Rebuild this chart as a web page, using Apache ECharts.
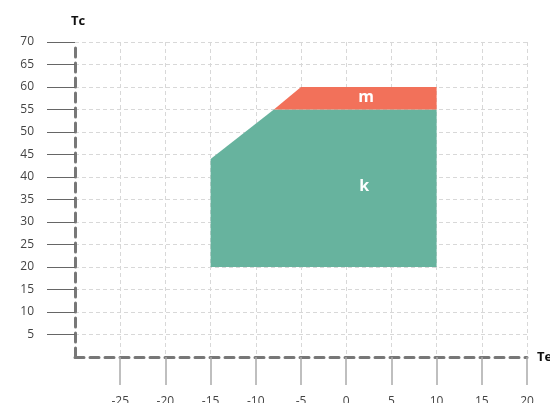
<!DOCTYPE html>
<html><head><meta charset="utf-8">
<script src="https://cdn.jsdelivr.net/npm/echarts@6/dist/echarts.min.js"></script>
<style>html,body{margin:0;padding:0;background:#fff}#c{width:550px;height:403px}</style>
</head><body><div id="c"></div>
<script>
const xTicks = [-25, -20, -15, -10, -5, 0, 5, 10, 15, 20];
const yTicks = [5, 10, 15, 20, 25, 30, 35, 40, 45, 50, 55, 60, 65, 70];
const regionNames = ['k', 'm'];
const regionK = [[-15, 20], [-15, 44], [-8, 55], [10, 55], [10, 20]];
const regionM = [[-8, 55], [-5, 60], [10, 60], [10, 55]];
const labelPosK = [2, 38];
const labelPosM = [2.2, 57.6];
const colors = ['#67b39e', '#f2715a'];

const regions = [regionK, regionM];
const labelPos = [labelPosK, labelPosM];

const chart = echarts.init(document.getElementById('c'));
const font = 'Open Sans';
function polySeries(idx) {
  return {
    type: 'custom',
    name: regionNames[idx],
    data: [0],
    silent: true,
    renderItem: function (params, api) {
      const pts = regions[idx].map(p => api.coord(p));
      const lp = api.coord(labelPos[idx]);
      return {
        type: 'group',
        children: [
          { type: 'polygon', shape: { points: pts }, style: { fill: colors[idx] } },
          { type: 'text', x: lp[0], y: lp[1], style: { text: regionNames[idx], fill: '#fff', font: 'bold 16px "Open Sans"', align: 'center', verticalAlign: 'middle' }, z2: 10 }
        ]
      };
    }
  };
}
chart.setOption({
  animation: false,
  grid: { left: 75, right: 23, top: 42, bottom: 46, outerBoundsMode: 'none', containLabel: false },
  xAxis: {
    type: 'value', min: -30, max: 20, interval: 5,
    name: 'Te', nameLocation: 'end', nameGap: 10,
    nameTextStyle: { fontWeight: 'bold', fontSize: 13, color: '#111', fontFamily: font },
    axisLine: { show: true, onZero: false, lineStyle: { color: '#777', width: 3, type: [9, 6] } },
    axisTick: { show: true, length: 28, customValues: xTicks, lineStyle: { color: '#aaa', width: 1.5 } },
    axisLabel: { customValues: xTicks, margin: 39, fontSize: 12, color: '#444', fontFamily: font },
    splitLine: { show: true, lineStyle: { color: '#d8d8d8', type: [4, 3] } }
  },
  yAxis: {
    type: 'value', min: 0, max: 70, interval: 5,
    name: 'Tc', nameLocation: 'end', nameGap: 14,
    nameTextStyle: { fontWeight: 'bold', fontSize: 13, color: '#111', fontFamily: font, align: 'left', padding: [0, 0, 0, -4] },
    axisLine: { show: true, onZero: false, lineStyle: { color: '#777', width: 3, type: [9, 6] } },
    axisTick: { show: true, length: 28, customValues: yTicks, lineStyle: { color: '#666', width: 1 } },
    axisLabel: { customValues: yTicks, margin: 41, fontSize: 12, color: '#444', fontFamily: font },
    splitLine: { show: true, lineStyle: { color: '#d8d8d8', type: [4, 3] } }
  },
  series: [polySeries(0), polySeries(1)]
});
</script></body></html>
